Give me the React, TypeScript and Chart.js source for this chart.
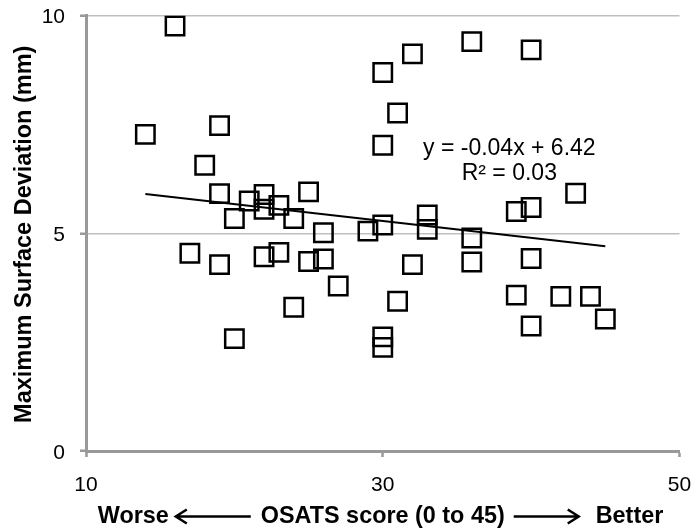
import React, { useEffect, useRef } from 'react';
import { Chart, registerables } from 'chart.js';

Chart.register(...registerables);

// OSATS score (x) and maximum surface deviation in mm (y)
const osatsScores = [14, 16, 17, 18, 19, 19, 19, 20, 20, 21, 22, 22, 22, 23, 23, 24, 24, 25, 25, 26, 26, 27, 29, 30, 30, 30, 30, 30, 31, 31, 32, 32, 33, 33, 36, 36, 36, 39, 39, 40, 40, 40, 40, 42, 43, 44, 45];
const maxDeviation = [7.27, 9.76, 4.54, 6.56, 7.47, 5.91, 4.28, 5.34, 2.58, 5.74, 5.89, 5.55, 4.46, 5.64, 4.56, 5.34, 3.30, 5.95, 4.35, 5.01, 4.41, 3.79, 5.05, 8.69, 7.02, 5.19, 2.62, 2.38, 7.76, 3.44, 9.12, 4.28, 5.42, 5.09, 9.40, 4.89, 4.34, 5.50, 3.58, 9.21, 5.59, 4.42, 2.87, 3.55, 5.92, 3.55, 3.03];

// linear trend line end points
const trendX = [14, 45];
const trendY = [5.9, 4.7];

// axes
const xRange = [10, 50];
const xStep = 20;
const yRange = [0, 10];
const yStep = 5;

// texts
const equationLines = ['y = -0.04x + 6.42', 'R² = 0.03'];
const yTitle = 'Maximum Surface Deviation (mm)';
const xTitleLeft = 'Worse';
const xTitleMid = 'OSATS score (0 to 45)';
const xTitleRight = 'Better';

const FONT = '"Liberation Sans", Arial, Helvetica, sans-serif';

const textPlugin = {
  id: 'textPlugin',
  afterDraw(chart: any) {
    const { ctx, chartArea, scales } = chart;
    ctx.save();
    ctx.fillStyle = '#000';
    ctx.strokeStyle = '#000';

    // regression equation
    ctx.font = `23px ${FONT}`;
    ctx.textAlign = 'center';
    ctx.textBaseline = 'middle';
    const ex = scales.x.getPixelForValue(38.53);
    ctx.fillText(equationLines[0], ex, scales.y.getPixelForValue(6.94));
    ctx.fillText(equationLines[1], ex, scales.y.getPixelForValue(6.36));

    // y title
    ctx.save();
    ctx.font = `bold 23.5px ${FONT}`;
    ctx.translate(25, (chartArea.top + chartArea.bottom) / 2 + 1);
    ctx.rotate(-Math.PI / 2);
    ctx.textAlign = 'center';
    ctx.textBaseline = 'middle';
    ctx.fillText(yTitle, 0, 0);
    ctx.restore();

    // x title with arrows
    ctx.font = `bold 23.4px ${FONT}`;
    ctx.textBaseline = 'alphabetic';
    const baseY = 523;
    const cy = 516.5;
    const cx = (chartArea.left + chartArea.right) / 2;
    const midW = ctx.measureText(xTitleMid).width;
    const midL = cx - midW / 2;
    const midR = cx + midW / 2;
    ctx.textAlign = 'center';
    ctx.fillText(xTitleMid, cx, baseY);

    ctx.lineWidth = 2.5;
    // left arrow
    const a1R = midL - 10;
    const a1L = a1R - 75;
    ctx.beginPath();
    ctx.moveTo(a1R, cy);
    ctx.lineTo(a1L + 1, cy);
    ctx.moveTo(a1L + 11, cy - 7);
    ctx.lineTo(a1L, cy);
    ctx.lineTo(a1L + 11, cy + 7);
    ctx.stroke();
    ctx.textAlign = 'right';
    ctx.fillText(xTitleLeft, a1L - 7, baseY);

    // right arrow
    const a2L = midR + 9;
    const a2R = a2L + 65;
    ctx.beginPath();
    ctx.moveTo(a2L, cy);
    ctx.lineTo(a2R - 1, cy);
    ctx.moveTo(a2R - 11, cy - 7);
    ctx.lineTo(a2R, cy);
    ctx.lineTo(a2R - 11, cy + 7);
    ctx.stroke();
    ctx.textAlign = 'left';
    ctx.fillText(xTitleRight, a2R + 17, baseY);

    ctx.restore();
  },
};

export default function App() {
  const canvasRef = useRef<HTMLCanvasElement | null>(null);

  useEffect(() => {
    if (!canvasRef.current) return;
    const points = osatsScores.map((x, i) => ({ x, y: maxDeviation[i] }));
    const trend = trendX.map((x, i) => ({ x, y: trendY[i] }));
    const chart = new Chart(canvasRef.current, {
      type: 'scatter',
      data: {
        datasets: [
          {
            type: 'line',
            data: trend,
            borderColor: '#000',
            borderWidth: 2,
            pointRadius: 0,
            fill: false,
            order: 1,
          } as any,
          {
            data: points,
            pointStyle: 'rect',
            pointRadius: 13,
            pointHoverRadius: 13,
            pointBorderWidth: 2.5,
            borderColor: '#000',
            backgroundColor: 'rgba(0,0,0,0)',
            order: 2,
          },
        ],
      },
      options: {
        animation: false,
        responsive: false,
        events: [],
        layout: { padding: { top: 14, right: 13, left: 0, bottom: 0 } },
        plugins: {
          legend: { display: false },
          tooltip: { enabled: false },
        },
        scales: {
          x: {
            type: 'linear',
            min: xRange[0],
            max: xRange[1],
            ticks: {
              stepSize: xStep,
              color: '#000',
              font: { size: 21, family: FONT },
              padding: 16,
            },
            grid: {
              drawOnChartArea: false,
              drawTicks: true,
              tickLength: 6,
              tickColor: '#999',
              tickWidth: 2.5,
            },
            border: { color: '#999', width: 3 },
            afterFit: (s: any) => {
              s.height = 80;
              s.paddingLeft = 0;
              s.paddingRight = 0;
            },
          },
          y: {
            type: 'linear',
            min: yRange[0],
            max: yRange[1],
            ticks: {
              stepSize: yStep,
              color: '#000',
              font: { size: 21, family: FONT },
              padding: 15,
              labelOffset: 2,
            },
            grid: {
              color: '#bfbfbf',
              lineWidth: 1.5,
              drawTicks: true,
              tickLength: 6,
              tickColor: '#999',
              tickWidth: 2.5,
            },
            border: { color: '#999', width: 3 },
            afterFit: (s: any) => {
              s.width = 86;
              s.paddingTop = 0;
              s.paddingBottom = 0;
            },
          },
        },
      },
      plugins: [textPlugin],
    });
    return () => chart.destroy();
  }, []);

  return (
    <div style={{ position: 'absolute', left: 0, top: 0, width: 695, height: 531, background: '#fff' }}>
      <canvas ref={canvasRef} width={695} height={531} style={{ display: 'block' }} />
    </div>
  );
}
